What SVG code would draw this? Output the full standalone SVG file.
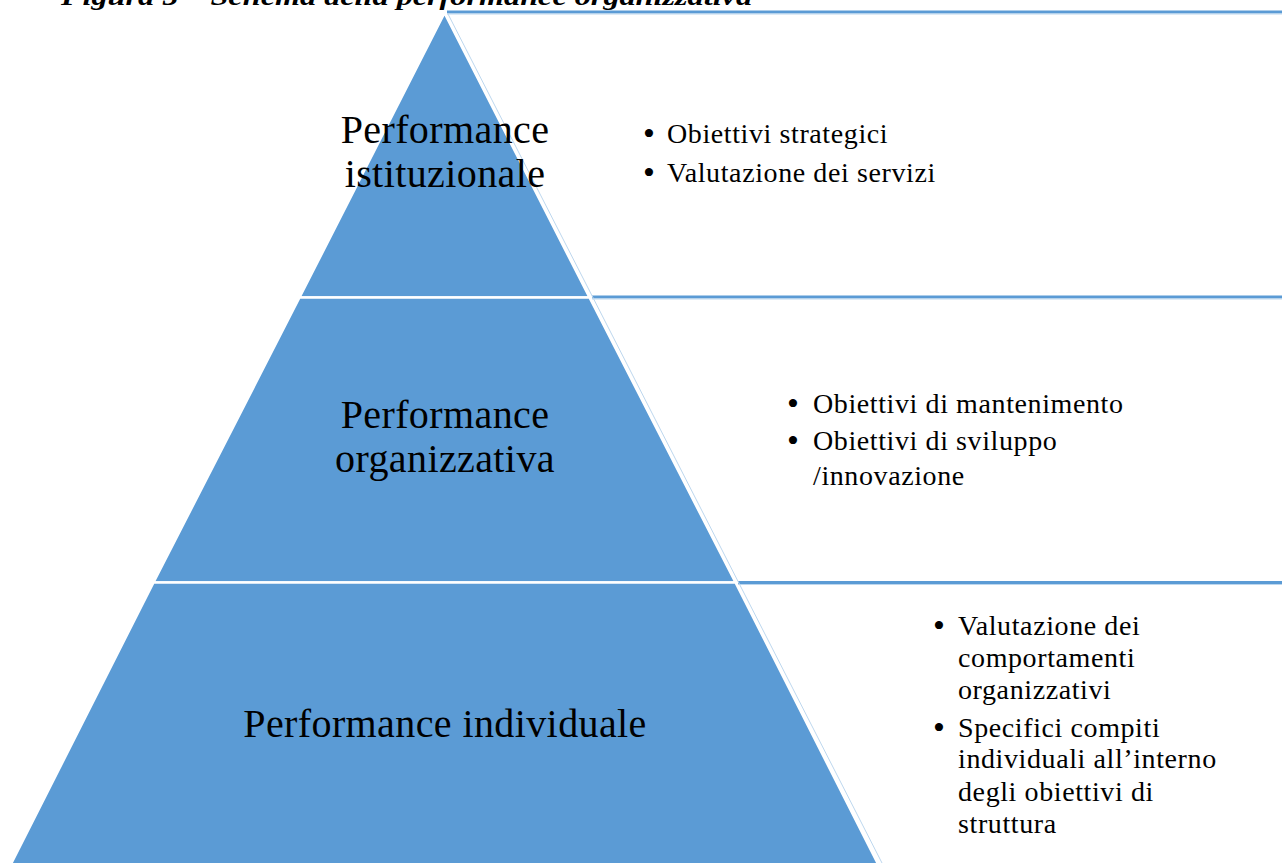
<svg xmlns="http://www.w3.org/2000/svg" width="1282" height="863" viewBox="0 0 1282 863">
<style>
.lvl{fill:#5B9BD5;stroke:#FFFFFF;stroke-width:2.5;stroke-linejoin:miter}
.big{font-family:"Liberation Serif",serif;font-size:40px;letter-spacing:0.4px;fill:#000;text-anchor:middle}
.txt{font-family:"Liberation Serif",serif;font-size:28px;letter-spacing:0.6px;fill:#000}
.bul{font-family:"Liberation Serif",serif;font-size:34px;fill:#000;text-anchor:middle}
.hl{stroke:#5B9BD5;stroke-width:3;fill:none}
.hl2{stroke:#BDD7EE;stroke-width:1;fill:none}
.title{font-family:"Liberation Serif",serif;font-size:26px;font-style:italic;font-weight:bold;fill:#000}
</style>
<rect width="1282" height="863" fill="#FFFFFF"/>
<text class="title" x="61" y="5" textLength="691" lengthAdjust="spacingAndGlyphs">Figura 5 – Schema della performance organizzativa</text>
<g id="connectors">
  <line class="hl" x1="447" y1="12" x2="1282" y2="12"/>
  <line class="hl2" x1="447" y1="14" x2="1282" y2="14"/>
  <line class="hl" x1="592" y1="297" x2="1282" y2="297"/>
  <line class="hl2" x1="592" y1="299" x2="1282" y2="299"/>
  <line class="hl" x1="738" y1="582.5" x2="1282" y2="582.5"/>
  <line class="hl2" x1="738" y1="584.5" x2="1282" y2="584.5"/>
  <line class="hl2" x1="447.5" y1="13" x2="882" y2="863"/>
</g>
<g id="node-istituzionale">
  <polygon class="lvl" points="444.5,13 589.5,297.5 299.5,297.5"/>
  <text class="big" x="445" y="143">Performance</text>
  <text class="big" x="445" y="187">istituzionale</text>
</g>
<g id="node-organizzativa">
  <polygon class="lvl" points="299.5,297.5 589.5,297.5 735.5,582.5 153.5,582.5"/>
  <text class="big" x="445" y="428">Performance</text>
  <text class="big" x="445" y="472">organizzativa</text>
</g>
<g id="node-individuale">
  <polygon class="lvl" points="153.5,582.5 735.5,582.5 879,866 10,866"/>
  <text class="big" x="445" y="737">Performance individuale</text>
</g>
<g id="list-istituzionale">
  <text class="bul" x="649" y="145">•</text>
  <text class="txt" x="667" y="143">Obiettivi strategici</text>
  <text class="bul" x="649" y="184">•</text>
  <text class="txt" x="667" y="182">Valutazione dei servizi</text>
</g>
<g id="list-organizzativa">
  <text class="bul" x="793" y="415">•</text>
  <text class="txt" x="813" y="413">Obiettivi di mantenimento</text>
  <text class="bul" x="793" y="452">•</text>
  <text class="txt" x="813" y="450">Obiettivi di sviluppo</text>
  <text class="txt" x="813" y="485">/innovazione</text>
</g>
<g id="list-individuale">
  <text class="bul" x="939" y="637">•</text>
  <text class="txt" x="958" y="635">Valutazione dei</text>
  <text class="txt" x="958" y="667">comportamenti</text>
  <text class="txt" x="958" y="699">organizzativi</text>
  <text class="bul" x="939" y="739">•</text>
  <text class="txt" x="958" y="737">Specifici compiti</text>
  <text class="txt" x="958" y="768">individuali all’interno</text>
  <text class="txt" x="958" y="801">degli obiettivi di</text>
  <text class="txt" x="958" y="833">struttura</text>
</g>
</svg>
